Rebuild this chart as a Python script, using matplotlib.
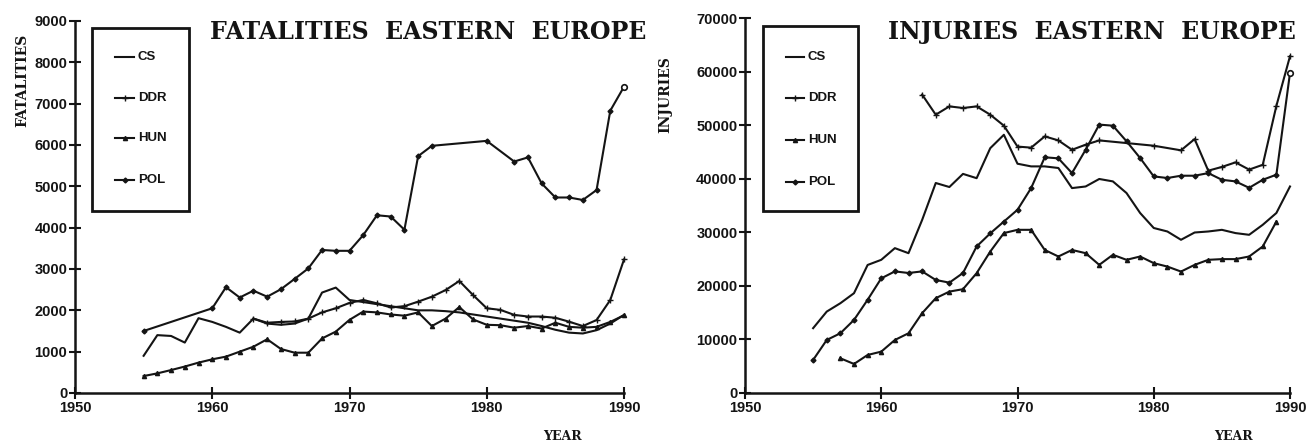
import matplotlib
matplotlib.use('Agg')
import matplotlib.pyplot as plt
from matplotlib.lines import Line2D
from matplotlib.patches import Rectangle

# ---- fatalities (left panel) ----
cs_fat_years = list(range(1955, 1991))
cs_fat = [900, 1400, 1380, 1220, 1810, 1720, 1600, 1460, 1800, 1680,
          1650, 1680, 1800, 2430, 2550, 2250, 2200, 2150, 2100, 2050,
          2000, 2000, 1980, 1950, 1900, 1850, 1800, 1750, 1700, 1620,
          1530, 1460, 1440, 1520, 1680, 1890]

ddr_fat_years = list(range(1963, 1991))
ddr_fat = [1800, 1700, 1720, 1730, 1800, 1950, 2050, 2180, 2250, 2170,
           2070, 2100, 2210, 2330, 2490, 2710, 2370, 2050, 2010, 1890,
           1850, 1850, 1820, 1725, 1620, 1765, 2250, 3230]

hun_fat_years = list(range(1955, 1991))
hun_fat = [410, 475, 555, 640, 735, 815, 880, 1000, 1120, 1300,
           1065, 975, 975, 1320, 1485, 1770, 1970, 1950, 1900, 1870,
           1950, 1620, 1800, 2080, 1780, 1650, 1640, 1580, 1620, 1560,
           1700, 1600, 1580, 1600, 1720, 1880]

pol_fat_years = [1955, 1960, 1961, 1962, 1963, 1964, 1965, 1966, 1967, 1968,
                 1969, 1970, 1971, 1972, 1973, 1974, 1975, 1976, 1980, 1982,
                 1983, 1984, 1985, 1986, 1987, 1988, 1989, 1990]
pol_fat = [1500, 2050, 2560, 2310, 2475, 2330, 2510, 2760, 3015, 3460,
           3440, 3440, 3820, 4300, 4270, 3950, 5730, 5980, 6100, 5600,
           5700, 5070, 4730, 4730, 4670, 4910, 6830, 7410]

# ---- injuries (right panel) ----
cs_inj_years = list(range(1955, 1991))
cs_inj = [12100, 15200, 16760, 18630, 23900, 24860, 27040, 26100, 32300, 39200,
          38450, 40900, 40100, 45700, 48200, 42800, 42300, 42300, 42000, 38250,
          38550, 39950, 39500, 37330, 33600, 30800, 30150, 28600, 29960, 30150,
          30460, 29850, 29530, 31400, 33600, 38550]

ddr_inj_years = [1963, 1964, 1965, 1966, 1967, 1968, 1969, 1970, 1971, 1972,
                 1973, 1974, 1975, 1976, 1980, 1982, 1983, 1984, 1985, 1986,
                 1987, 1988, 1989, 1990]
ddr_inj = [55700, 51950, 53500, 53200, 53500, 51950, 49900, 46000, 45800, 47900,
           47150, 45400, 46350, 47150, 46160, 45300, 47400, 41500, 42200, 43050,
           41700, 42600, 53600, 62860]

hun_inj_years = list(range(1957, 1990))
hun_inj = [6480, 5420, 7100, 7720, 9900, 11150, 14900, 17700, 18930, 19380,
           22370, 26400, 29850, 30460, 30460, 26700, 25480, 26700, 26100, 23920,
           25800, 24860, 25480, 24240, 23600, 22670, 23920, 24860, 24990, 24990,
           25480, 27350, 32000]

pol_inj_years = list(range(1955, 1991))
pol_inj = [6170, 9900, 11150, 13640, 17400, 21400, 22700, 22400, 22700, 21100,
           20600, 22400, 27350, 29800, 32000, 34200, 38250, 44000, 43800, 41050,
           45400, 50100, 49900, 47000, 43860, 40430, 40130, 40560, 40560, 41050,
           39800, 39500, 38300, 39800, 40750, 59750]

names = ['CS', 'DDR', 'HUN', 'POL']
markers = [None, '+', '^', 'D']
msizes = [0, 5, 3, 2.5]

ink = '#141414'
serif = ['DejaVu Serif']
tickfont = dict(family=['Liberation Sans', 'DejaVu Sans'], weight='bold', size=10.5)
legfont = dict(family=['Liberation Sans', 'DejaVu Sans'], weight='bold', size=9.5)

W, H = 1312, 443
fig = plt.figure(figsize=(W / 100, H / 100), dpi=100)
fig.patch.set_facecolor('white')


def fx(px):
    return px / W


def fy(py):
    return 1 - py / H


ax1 = fig.add_axes([fx(75), fy(393), 549 / W, 372 / H])
ax2 = fig.add_axes([fx(745), fy(393), 545 / W, 375 / H])


def style_axis(ax, ymax, ystep):
    for s in ['top', 'right']:
        ax.spines[s].set_visible(False)
    for s in ['left', 'bottom']:
        ax.spines[s].set_linewidth(1.8)
        ax.spines[s].set_color(ink)
    ax.set_xlim(1950, 1990)
    ax.set_ylim(0, ymax)
    ax.set_xticks(range(1950, 1991, 10))
    ax.set_yticks(range(0, ymax + 1, ystep))
    ax.tick_params(direction='inout', length=9, width=1.5, color=ink, pad=1)
    fp = matplotlib.font_manager.FontProperties(**tickfont)
    for lab in ax.get_xticklabels() + ax.get_yticklabels():
        lab.set_fontproperties(fp)
        lab.set_color(ink)
    ax.set_facecolor('none')


def draw(ax, data):
    for (yrs, vals), nm, mk, ms in zip(data, names, markers, msizes):
        ax.plot(yrs, vals, color=ink, lw=1.5, marker=mk, ms=ms,
                mew=1.0, mfc=ink, mec=ink, label=nm, clip_on=False)


def legend(box, rows, hx, tx):
    # box = (left, top, right, bottom) in pixels
    l, t, r, b = box
    fig.patches.append(Rectangle((fx(l), fy(b)), fx(r) - fx(l), fy(t) - fy(b),
                                 transform=fig.transFigure, fill=True, facecolor='white',
                                 edgecolor=ink, lw=2.0))
    for nm, mk, ms, ry in zip(names, markers, msizes, rows):
        fig.lines.append(Line2D([fx(hx[0]), fx(hx[1])], [fy(ry), fy(ry)],
                                transform=fig.transFigure, color=ink, lw=1.5))
        if mk:
            fig.lines.append(Line2D([fx((hx[0] + hx[1]) / 2)], [fy(ry)], marker=mk, ms=ms,
                                    mfc=ink, mec=ink, transform=fig.transFigure))
        fig.text(fx(tx), fy(ry), nm, ha='left', va='center', color=ink, **legfont)


draw(ax1, [(cs_fat_years, cs_fat), (ddr_fat_years, ddr_fat),
           (hun_fat_years, hun_fat), (pol_fat_years, pol_fat)])
style_axis(ax1, 9000, 1000)
ax1.plot(pol_fat_years[-1], pol_fat[-1], 'o', ms=4, mfc='white', mec=ink, mew=1.2, clip_on=False)

draw(ax2, [(cs_inj_years, cs_inj), (ddr_inj_years, ddr_inj),
           (hun_inj_years, hun_inj), (pol_inj_years, pol_inj)])
style_axis(ax2, 70000, 10000)
ax2.plot(pol_inj_years[-1], pol_inj[-1], 'o', ms=4, mfc='white', mec=ink, mew=1.2, clip_on=False)

legend((92, 28, 189, 211), [57, 98, 138, 180], (115, 134), 138)
legend((763, 26, 858, 211), [57, 98, 140, 182], (786, 804), 808)

fig.text(fx(428), fy(32), 'FATALITIES  EASTERN  EUROPE', ha='center', va='center',
         family=serif, weight='bold', size=17, color=ink)
fig.text(fx(1092), fy(32), 'INJURIES  EASTERN  EUROPE', ha='center', va='center',
         family=serif, weight='bold', size=17, color=ink)

fig.text(fx(22), fy(80), 'FATALITIES', rotation=90, ha='center', va='center',
         family=serif, weight='bold', size=10, color=ink)
fig.text(fx(665), fy(95), 'INJURIES', rotation=90, ha='center', va='center',
         family=serif, weight='bold', size=10, color=ink)
fig.text(fx(562), fy(437), 'YEAR', ha='center', va='center',
         family=serif, weight='bold', size=9, color=ink)
fig.text(fx(1233), fy(437), 'YEAR', ha='center', va='center',
         family=serif, weight='bold', size=9, color=ink)

fig.savefig('out.png', dpi=100)
plt.close(fig)
